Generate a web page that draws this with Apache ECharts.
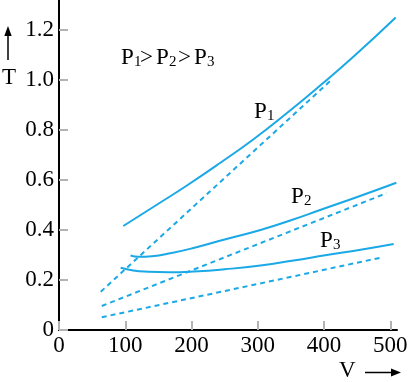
<!DOCTYPE html>
<html>
<head>
<meta charset="utf-8">
<script src="https://cdn.jsdelivr.net/npm/echarts@6/dist/echarts.min.js"></script>
<style>html,body{margin:0;padding:0;background:#fff}#c{width:419px;height:382px}</style>
</head>
<body>
<div id="c"></div>
<script>
// ---- data (V, T) ----
const xTicks = [0, 100, 200, 300, 400, 500];
const yTicks = [0, 0.2, 0.4, 0.6, 0.8, 1.0, 1.2];
const p1Solid = [[97,0.416],[150,0.505],[193,0.578],[243,0.668],[293,0.762],[344,0.868],[394,0.978],[445,1.095],[508,1.25]];
const p1Dashed = [[63,0.153],[410,0.998]];
const p2Solid = [[108,0.298],[120,0.293],[140,0.295],[170,0.308],[203,0.328],[250,0.362],[304,0.40],[350,0.439],[394,0.48],[450,0.532],[509,0.589]];
const p2Dashed = [[64.5,0.096],[494,0.547]];
const p3Solid = [[93,0.249],[112,0.238],[135,0.233],[165,0.231],[203,0.234],[250,0.243],[304,0.258],[354,0.278],[404,0.300],[455,0.321],[505,0.344]];
const p3Dashed = [[64.5,0.051],[485,0.289]];

const COLOR = '#1aa9e6';
const FAMILY = 'Liberation Serif';

const chart = echarts.init(document.getElementById('c'), null, {renderer: 'canvas'});

function solid(data) {
  return {type: 'line', data: data, smooth: 0.5, showSymbol: false, silent: true,
    lineStyle: {color: COLOR, width: 2}};
}
function dashed(data) {
  return {type: 'line', data: data, showSymbol: false, silent: true,
    lineStyle: {color: COLOR, width: 2, type: [5, 4]}};
}
function txt(x, y, s, size) {
  return {type: 'text', x: x, y: y, silent: true,
    style: {text: s, fontFamily: FAMILY, fontSize: size, fill: '#000', verticalAlign: 'top', align: 'left'}};
}
function pLabel(x, y, sub) {
  return [txt(x, y, 'P', 23), txt(x + 13, y + 9, sub, 15)];
}

const graphics = [].concat(
  // P1>P2>P3
  pLabel(121, 46, '1'),
  [txt(140, 46, '>', 23)],
  pLabel(156, 46, '2'),
  [txt(178, 46, '>', 23)],
  pLabel(194, 46, '3'),
  pLabel(254, 100, '1'),
  pLabel(291, 185, '2'),
  pLabel(320, 229, '3'),
  [
    txt(2, 66, 'T', 23),
    {type: 'line', silent: true, shape: {x1: 8, y1: 34, x2: 8, y2: 60}, style: {stroke: '#000', lineWidth: 1.5}},
    {type: 'polygon', silent: true, shape: {points: [[8, 26], [4.3, 36], [11.7, 36]]}, style: {fill: '#000'}},
    txt(339, 359, 'V', 23),
    {type: 'line', silent: true, shape: {x1: 365, y1: 372.5, x2: 393, y2: 372.5}, style: {stroke: '#000', lineWidth: 1.5}},
    {type: 'polygon', silent: true, shape: {points: [[401, 372.5], [391, 368.5], [391, 376.5]]}, style: {fill: '#000'}}
  ]
);

chart.setOption({
  animation: false,
  backgroundColor: '#fff',
  grid: {left: 59, right: 22, top: 0, bottom: 52, containLabel: false},
  xAxis: {
    type: 'value', min: 0, max: 510, interval: 100,
    axisLine: {show: true, lineStyle: {color: '#000', width: 2}},
    axisTick: {show: true, inside: true, length: 9, customValues: xTicks, lineStyle: {color: '#b3b3b3', width: 2}},
    axisLabel: {customValues: xTicks, margin: 4, color: '#000', fontFamily: FAMILY, fontSize: 23},
    splitLine: {show: false}
  },
  yAxis: {
    type: 'value', min: 0, max: 1.32, interval: 0.2,
    axisLine: {show: true, lineStyle: {color: '#000', width: 2}},
    axisTick: {show: true, inside: true, length: 9, customValues: yTicks, lineStyle: {color: '#b3b3b3', width: 2}},
    axisLabel: {customValues: yTicks, margin: 5, color: '#000', fontFamily: FAMILY, fontSize: 23,
      formatter: function (v) { return v === 0 ? '0' : v.toFixed(1); }},
    splitLine: {show: false}
  },
  series: [solid(p1Solid), dashed(p1Dashed), solid(p2Solid), dashed(p2Dashed), solid(p3Solid), dashed(p3Dashed)],
  graphic: graphics
});
</script>
</body>
</html>
